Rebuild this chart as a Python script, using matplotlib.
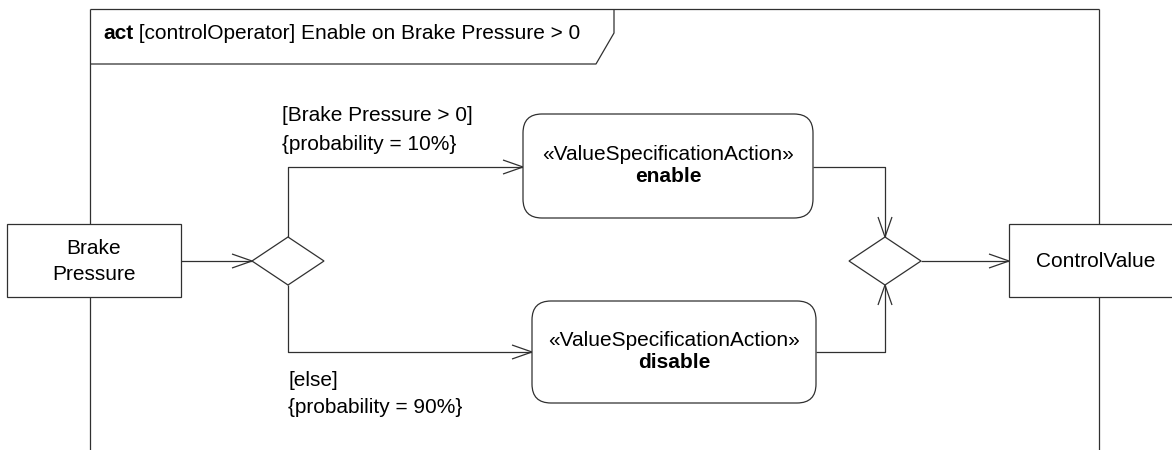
import matplotlib
matplotlib.use("Agg")
import matplotlib.pyplot as plt
from matplotlib.patches import Rectangle, FancyBboxPatch, Polygon

plt.rcParams['font.family'] = ['Liberation Sans', 'DejaVu Sans']

# diagram content
title_kw = "act"
title_rest = " [controlOperator] Enable on Brake Pressure > 0"

pin_labels = ["Brake\nPressure", "ControlValue"]
pin_x = [7, 1009]
pin_y = [224, 224]
pin_w = [174, 174]
pin_h = [73, 73]

stereotype = "«ValueSpecificationAction»"
action_names = ["enable", "disable"]
action_x = [523, 532]
action_y = [114, 301]
action_w = [290, 284]
action_h = [104, 102]

diamond_cx = [288, 885]
diamond_cy = [261, 261]

guards = ["[Brake Pressure > 0]", "[else]"]
probabilities = ["{probability = 10%}", "{probability = 90%}"]

# frame
frame_left, frame_right, frame_top = 90, 1099, 9
tab_right, tab_knee, tab_bottom, tab_foot = 614, 33, 64, 596

LC = "#303030"
LW = 0.9
FS = 15
DW, DH = 36, 24

fig = plt.figure(figsize=(11.72, 4.5), dpi=100)
ax = fig.add_axes([0, 0, 1, 1])
ax.set_xlim(0, 1172)
ax.set_ylim(450, 0)
ax.axis("off")


def line(xs, ys):
    ax.plot(xs, ys, color=LC, lw=LW, solid_capstyle="butt", zorder=2)


def arrow_head(x, y, direction):
    # open arrowhead, tip at (x, y)
    L, H = 20, 7
    if direction == "right":
        pts = [(x - L, y - H), (x, y), (x - L, y + H)]
    elif direction == "down":
        pts = [(x - H, y - L), (x, y), (x + H, y - L)]
    else:  # up
        pts = [(x - H, y + L), (x, y), (x + H, y + L)]
    line([p[0] for p in pts], [p[1] for p in pts])


# outer frame and name tab
line([frame_left, frame_left], [frame_top, 460])
line([frame_right, frame_right], [frame_top, 460])
line([frame_left, frame_right], [frame_top, frame_top])
line([frame_left, tab_foot, tab_right, tab_right],
     [tab_bottom, tab_bottom, tab_knee, frame_top])

t1 = ax.text(103, 39, title_kw, fontsize=FS, fontweight="bold", va="baseline", ha="left")
fig.canvas.draw()
bb = t1.get_window_extent()
x_end = ax.transData.inverted().transform((bb.x1, bb.y0))[0]
ax.text(x_end, 39, title_rest, fontsize=FS, va="baseline", ha="left")

# parameter nodes on the frame border
for lab, x, y, w, h in zip(pin_labels, pin_x, pin_y, pin_w, pin_h):
    ax.add_patch(Rectangle((x, y), w, h, facecolor="white", edgecolor=LC, lw=LW, zorder=3))
    ax.text(x + w / 2, y + h / 2 + 1, lab, fontsize=FS, ha="center", va="center",
            linespacing=1.5, zorder=4)

# actions
for name, x, y, w, h in zip(action_names, action_x, action_y, action_w, action_h):
    ax.add_patch(FancyBboxPatch((x, y), w, h, boxstyle="round,pad=0,rounding_size=19",
                                facecolor="white", edgecolor=LC, lw=LW, zorder=3))
    ax.text(x + w / 2, y + h / 2 - 6, stereotype, fontsize=FS, ha="center",
            va="baseline", zorder=4)
    ax.text(x + w / 2, y + h / 2 + 16, name, fontsize=FS, fontweight="bold",
            ha="center", va="baseline", zorder=4)

# decision / merge nodes
for cx, cy in zip(diamond_cx, diamond_cy):
    ax.add_patch(Polygon([(cx - DW, cy), (cx, cy - DH), (cx + DW, cy), (cx, cy + DH)],
                         closed=True, facecolor="white", edgecolor=LC, lw=LW, zorder=3))

# flows
bp_right = pin_x[0] + pin_w[0]
dcx, dcy = diamond_cx[0], diamond_cy[0]
mcx, mcy = diamond_cx[1], diamond_cy[1]
line([bp_right, dcx - DW], [dcy, dcy])
arrow_head(dcx - DW, dcy, "right")

yen = action_y[0] + 53
ydis = action_y[1] + 51
line([dcx, dcx, action_x[0]], [dcy - DH, yen, yen])
arrow_head(action_x[0], yen, "right")
line([dcx, dcx, action_x[1]], [dcy + DH, ydis, ydis])
arrow_head(action_x[1], ydis, "right")

line([action_x[0] + action_w[0], mcx, mcx], [yen, yen, mcy - DH])
arrow_head(mcx, mcy - DH, "down")
line([action_x[1] + action_w[1], mcx, mcx], [ydis, ydis, mcy + DH])
arrow_head(mcx, mcy + DH, "up")

line([mcx + DW, pin_x[1]], [mcy, mcy])
arrow_head(pin_x[1], mcy, "right")

# guards
ax.text(282, 121, guards[0], fontsize=FS, va="baseline")
ax.text(282, 150, probabilities[0], fontsize=FS, va="baseline")
ax.text(288, 386, guards[1], fontsize=FS, va="baseline")
ax.text(288, 413, probabilities[1], fontsize=FS, va="baseline")

fig.savefig("out.png", dpi=100, facecolor="white")
